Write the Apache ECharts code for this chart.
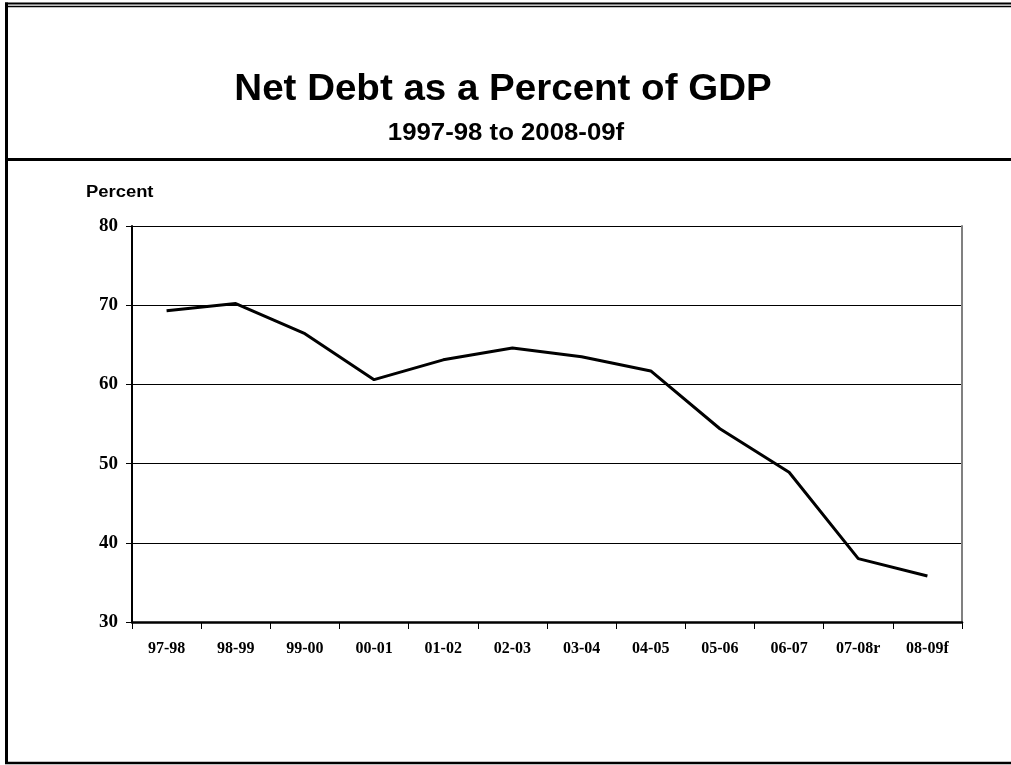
<!DOCTYPE html>
<html>
<head>
<meta charset="utf-8">
<script src="https://cdn.jsdelivr.net/npm/echarts@6/dist/echarts.min.js"></script>
<style>
  html, body { margin: 0; padding: 0; background: #fff; }
  #chart { width: 1011px; height: 765px; }
</style>
</head>
<body>
<div id="chart"></div>
<script>
var categories = ['97-98', '98-99', '99-00', '00-01', '01-02', '02-03', '03-04', '04-05', '05-06', '06-07', '07-08r', '08-09f'];
var netDebt = [69.3, 70.2, 66.4, 60.6, 63.1, 64.6, 63.5, 61.7, 54.4, 48.9, 38.0, 35.8];
var titleText = 'Net Debt as a Percent of GDP';
var subtitleText = '1997-98 to 2008-09f';
var yAxisName = 'Percent';

var chart = echarts.init(document.getElementById('chart'), null, { renderer: 'canvas' });
var serif = '"Liberation Serif", "Times New Roman", serif';
var sans = '"Liberation Sans", Arial, sans-serif';

chart.setOption({
  animation: false,
  backgroundColor: '#ffffff',
  grid: { left: 132, right: 49, top: 226, bottom: 143, containLabel: false },
  xAxis: {
    type: 'category',
    data: categories,
    boundaryGap: true,
    axisLine: { show: true, lineStyle: { color: '#000', width: 2.5 } },
    axisTick: { show: true, interval: 0, length: 7, lineStyle: { color: '#000', width: 1 } },
    axisLabel: { interval: 0, margin: 19, fontFamily: serif, fontWeight: 'bold', fontSize: 16, color: '#000' },
    splitLine: { show: false }
  },
  yAxis: [
    {
      type: 'value', min: 30, max: 80, interval: 10,
      axisLine: { show: true, lineStyle: { color: '#000', width: 2 } },
      axisTick: { show: true, length: 6, lineStyle: { color: '#000', width: 1 } },
      axisLabel: { margin: 14, fontFamily: serif, fontWeight: 'bold', fontSize: 19, color: '#000' },
      splitLine: { show: true, lineStyle: { color: '#000', width: 1 } }
    },
    {
      type: 'value', min: 30, max: 80, interval: 10, position: 'right',
      axisLine: { show: true, lineStyle: { color: '#808080', width: 2 } },
      axisTick: { show: false }, axisLabel: { show: false }, splitLine: { show: false }
    }
  ],
  series: [{
    type: 'line',
    data: netDebt,
    yAxisIndex: 0,
    symbol: 'none',
    smooth: false,
    lineStyle: { color: '#000', width: 3 },
    z: 5
  }],
  graphic: [
    { type: 'text', x: 503, y: 90, scaleX: 1.07, scaleY: 1,
      style: { text: titleText, font: 'bold 36px ' + sans, fill: '#000', textAlign: 'center', textVerticalAlign: 'middle' } },
    { type: 'text', x: 506, y: 134, scaleX: 1.12, scaleY: 1,
      style: { text: subtitleText, font: 'bold 23px ' + sans, fill: '#000', textAlign: 'center', textVerticalAlign: 'middle' } },
    { type: 'text', x: 86, y: 193, scaleX: 1.15, scaleY: 1,
      style: { text: yAxisName, font: 'bold 16px ' + sans, fill: '#000', textAlign: 'left', textVerticalAlign: 'middle' } },
    { type: 'line', shape: { x1: 6.5, y1: 2.5, x2: 6.5, y2: 764 }, style: { stroke: '#000', lineWidth: 3 } },
    { type: 'line', shape: { x1: 5, y1: 3.5, x2: 1011, y2: 3.5 }, style: { stroke: '#000', lineWidth: 2 } },
    { type: 'line', shape: { x1: 8, y1: 6.5, x2: 1011, y2: 6.5 }, style: { stroke: '#000', lineWidth: 1.5 } },
    { type: 'line', shape: { x1: 6, y1: 159.5, x2: 1011, y2: 159.5 }, style: { stroke: '#000', lineWidth: 3 } },
    { type: 'line', shape: { x1: 5, y1: 763, x2: 1011, y2: 763 }, style: { stroke: '#000', lineWidth: 2.5 } }
  ]
});
</script>
</body>
</html>
